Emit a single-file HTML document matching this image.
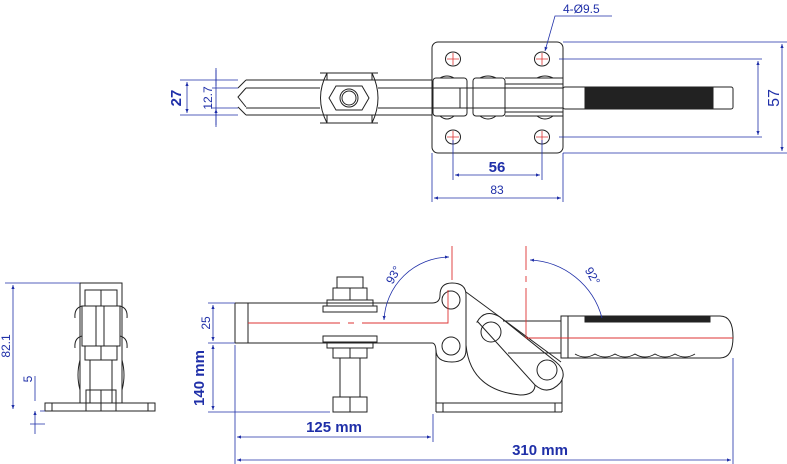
<!DOCTYPE html>
<html><head><style>
html,body{margin:0;padding:0;background:#fff}
svg{display:block}
text{font-family:"Liberation Sans",sans-serif;fill:#1f2fa8}
</style></head><body>
<svg width="787" height="464" viewBox="0 0 787 464" xmlns="http://www.w3.org/2000/svg">
<defs>
<marker id="a" viewBox="0 0 10 10" refX="10" refY="5" markerWidth="7" markerHeight="5" orient="auto-start-reverse"><path d="M0,1 L10,5 L0,9z" fill="#1f2fa8"/></marker>
</defs>
<g fill="none" stroke="#222" stroke-width="1">
<!-- TOP VIEW -->
<rect x="432" y="42" width="131" height="111" rx="6"/>
<g stroke="#222"><ellipse cx="453" cy="59" rx="7.5" ry="7"/><ellipse cx="542" cy="59" rx="7.5" ry="7"/><ellipse cx="453" cy="137" rx="7.5" ry="7"/><ellipse cx="542" cy="137" rx="7.5" ry="7"/></g>
<g stroke="#d33" stroke-width="0.8"><path d="M447 59h12M453 53v12M536 59h12M542 53v12M447 137h12M453 131v12M536 137h12M542 131v12"/></g>
<path d="M246 80H432M246 115H432M246 88L238 97L246 107M246 80L238 88M246 115L238 107M246 88H320M246 108H320M378 88H432M378 108H432"/>
<path d="M320 73H378M320 123H378M327 73V80M372 73V80M327 123V115M372 123V115"/>
<path d="M327 73Q314 98 327 123M372 73Q384 98 372 123"/>
<polygon points="336,86 362,86 369,98 362,110 336,110 329,98"/>
<circle cx="349" cy="98" r="9"/><circle cx="349" cy="98" r="7"/>
<rect x="433" y="78" width="34" height="38" rx="3"/><rect x="473" y="78" width="32" height="38" rx="3"/>
<path d="M433 88H563M433 108H563M460 88V108M505 78H563M505 116H563M505 84H563M505 112H563"/>
<path d="M440 78q7-4 14 0M480 78q8-4 16 0M537 78q8-4 16 0M440 116q7 6 14 0M480 116q8 6 16 0M537 116q8 6 16 0"/>
<rect x="563" y="87" width="170" height="22" rx="2"/>
<rect x="585" y="87" width="128" height="22" fill="#222"/>
<!-- SIDE VIEW -->
<rect x="45" y="403" width="110" height="8"/>
<path d="M52 403v8M148 403v8"/>
<rect x="80" y="283" width="42" height="120"/>
<rect x="85" y="290" width="32" height="16"/><path d="M101 290v16"/>
<rect x="82" y="306" width="38" height="40"/><path d="M96 306v40M104 306v40"/>
<path d="M82 306q-8 2-7 12M120 306q8 2 7 12M82 336q-8 2-7 12M120 336q8 2 7 12"/>
<rect x="85" y="346" width="32" height="14"/><path d="M101 346v14"/>
<path d="M80 360q-4 15 0 30M122 360q4 15 0 30M90 360v43M112 360v43"/>
<rect x="86" y="390" width="30" height="21"/><path d="M101 390v21"/>
<!-- FRONT VIEW -->
<path d="M235 303H432Q440 303 440 295M235 343H432Q436 343 436 352V412"/>
<path d="M235 303V343M248 303V343"/>
<path d="M440 295Q440 283 452 283Q466 283 466 295V350Q466 362 452 362Q436 362 436 350"/>
<circle cx="451" cy="300" r="9"/><circle cx="451" cy="346" r="9"/>
<path d="M466 292L561 362"/>
<path d="M478 322L535 385Q548 396 560 383Q568 372 556 362L500 317Q485 308 477 322Z"/>
<circle cx="491" cy="332" r="10"/><circle cx="547" cy="370" r="10"/>
<path d="M466 345Q470 390 520 395Q535 395 535 385"/>
<path d="M436 403H562M436 412H562M562 380V412M443 403V412M555 403V412"/>
<path d="M503 321H561M508 353H561"/>
<path d="M561 316H720Q733 316 733 337Q733 358 720 358H561Z"/>
<path d="M561 316V358M568 316V358"/>
<path d="M575 354q10 6 20 0q10 6 20 0q10 6 20 0q10 6 20 0q10 6 20 0q10 6 20 0"/>
<rect x="585" y="317" width="125" height="5" fill="#222"/>
<rect x="333" y="288" width="34" height="12"/><path d="M350 288v12"/>
<rect x="337" y="277" width="26" height="11"/>
<rect x="327" y="300" width="46" height="6"/><rect x="323" y="306" width="54" height="6"/>
<rect x="323" y="336" width="54" height="6"/><rect x="327" y="342" width="46" height="6"/>
<rect x="333" y="348" width="34" height="10"/><path d="M350 348v10"/>
<path d="M340 358V397M360 358V397"/>
<rect x="333" y="397" width="34" height="15"/><path d="M350 397v15"/>
</g>
<g stroke="#d33" stroke-width="0.9" fill="none">
<path d="M248 323H340M348 323H354M362 323H448V290M452 280V246"/>
<path d="M526 246V270M526 276V282M526 288V338H733"/>
</g>
<g stroke="#1f2fa8" stroke-width="0.8" fill="none">
<path d="M563 42H787M563 153H787M559 59H762M559 137H762"/>
<path d="M782 44V151" marker-start="url(#a)" marker-end="url(#a)"/>
<path d="M758 61V135" marker-start="url(#a)" marker-end="url(#a)"/>
<path d="M453 140V180M542 140V180M432 153V202M563 153V202"/>
<path d="M455 175H540" marker-start="url(#a)" marker-end="url(#a)"/>
<path d="M434 198H561" marker-start="url(#a)" marker-end="url(#a)"/>
<path d="M545 51L555 16H612" marker-start="url(#a)"/>
<path d="M180 80H238M180 115H238M212 88H238M212 108H238M216 68V127"/>
<path d="M187 82V113" marker-start="url(#a)" marker-end="url(#a)"/>
<path d="M216 70V86M216 125V109" marker-end="url(#a)"/>
<path d="M5 283H80M40 411H45M30 424H45"/>
<path d="M13 285V409" marker-start="url(#a)" marker-end="url(#a)"/>
<path d="M35 376V401M35 434V411" marker-end="url(#a)"/>
<path d="M208 303H235M208 343H235M208 412H330"/>
<path d="M213 305V341" marker-start="url(#a)" marker-end="url(#a)"/>
<path d="M213 345V410" marker-start="url(#a)" marker-end="url(#a)"/>
<path d="M235 345V464M433 414V442M733 358V464"/>
<path d="M237 437H431" marker-start="url(#a)" marker-end="url(#a)"/>
<path d="M237 460H731" marker-start="url(#a)" marker-end="url(#a)"/>
<path d="M449 257A66 66 0 0 0 384 320" marker-start="url(#a)" marker-end="url(#a)"/>
<path d="M530 260A78 78 0 0 1 602 318" marker-start="url(#a)"/>
</g>
<text x="563" y="13" font-size="12">4-Ø9.5</text>
<text x="497" y="172" font-size="15" font-weight="bold" text-anchor="middle">56</text>
<text x="497" y="194" font-size="12" text-anchor="middle">83</text>
<text transform="translate(779,98) rotate(-90)" font-size="16" text-anchor="middle">57</text>
<text transform="translate(181,98) rotate(-90)" font-size="15" font-weight="bold" text-anchor="middle">27</text>
<text transform="translate(212,98) rotate(-90)" font-size="12" text-anchor="middle">12.7</text>
<text transform="translate(10,346) rotate(-90)" font-size="12" text-anchor="middle">82.1</text>
<text transform="translate(32,379) rotate(-90)" font-size="12" text-anchor="middle">5</text>
<text transform="translate(210,323) rotate(-90)" font-size="12" text-anchor="middle">25</text>
<text transform="translate(204,378) rotate(-90)" font-size="15" font-weight="bold" text-anchor="middle">140 mm</text>
<text x="334" y="432" font-size="15" font-weight="bold" text-anchor="middle">125 mm</text>
<text x="540" y="455" font-size="15" font-weight="bold" text-anchor="middle">310 mm</text>
<text transform="translate(397,277) rotate(-60)" font-size="12" text-anchor="middle">93°</text>
<text transform="translate(589,278) rotate(60)" font-size="12" text-anchor="middle">92°</text>
</svg>
</body></html>
